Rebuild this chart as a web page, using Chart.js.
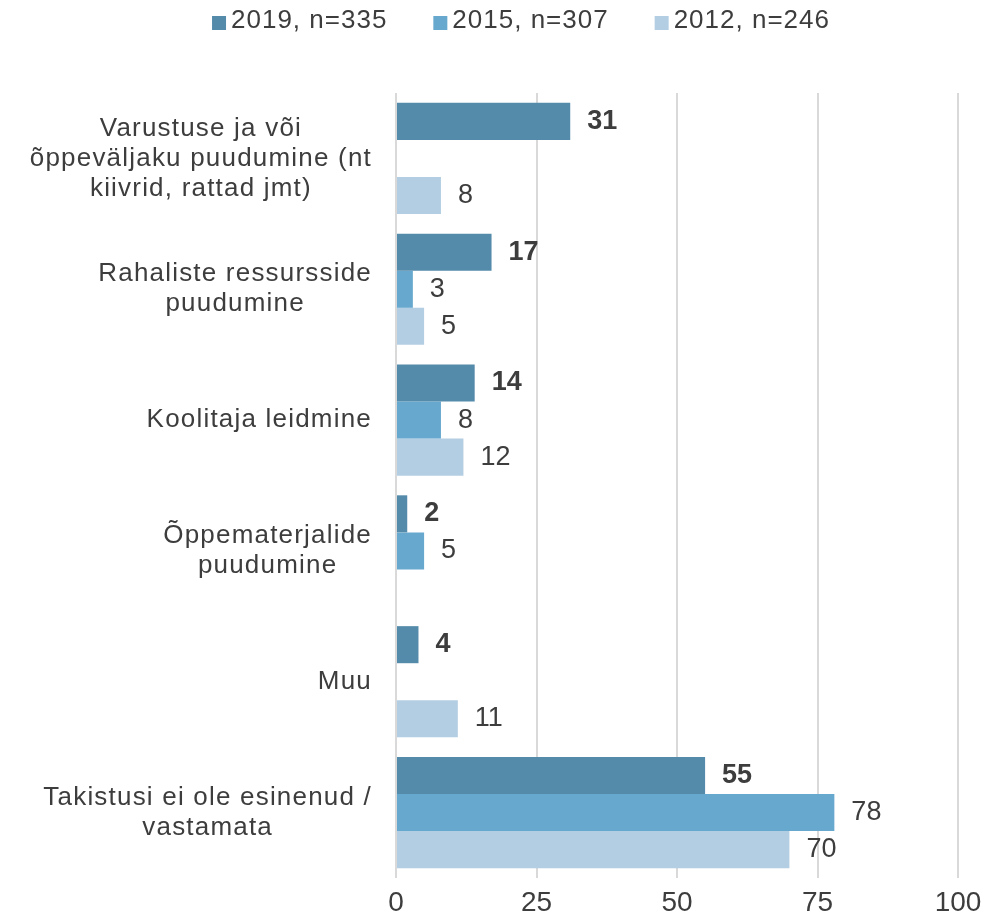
<!DOCTYPE html>
<html>
<head>
<meta charset="utf-8">
<script src="https://cdn.jsdelivr.net/npm/chart.js@4/dist/chart.umd.min.js"></script>
<style>
  body { margin: 0; background: #fff; }
  #wrap { width: 1003px; height: 915px; position: relative; }
</style>
</head>
<body>
<div id="wrap"><canvas id="takistusedChart"></canvas></div>
<script>
const categories = [
    ["Varustuse ja või", "õppeväljaku puudumine (nt", "kiivrid, rattad jmt)"],
    ["Rahaliste ressursside", "puudumine"],
    ["Koolitaja leidmine"],
    ["Õppematerjalide", "puudumine"],
    ["Muu"],
    ["Takistusi ei ole esinenud /", "vastamata"],
];
const seriesNames = ["2019, n=335", "2015, n=307", "2012, n=246"];
const values2019 = [31, 17, 14, 2, 4, 55];
const values2015 = [null, 3, 8, 5, null, 78];
const values2012 = [8, 5, 12, null, 11, 70];
const xTicks = [0, 25, 50, 75, 100];

const FONT = "'Liberation Sans', Arial, sans-serif";
const TEXT = "#3d3d3d";
const colors = ["#548BAB", "#67A8CF", "#B3CEE2"];

// kategooriate nimed: iga plokk keskel, ploki parem serv telje ääres
const categoryLabels = {
    id: "categoryLabels",
    afterDraw(chart) {
        const ctx = chart.ctx;
        const y = chart.scales.y;
        const right = chart.chartArea.left - 24;
        const lh = 30;
        ctx.save();
        ctx.font = "26px " + FONT;
        ctx.letterSpacing = "1.2px";
        ctx.fillStyle = TEXT;
        ctx.textAlign = "center";
        ctx.textBaseline = "middle";
        categories.forEach((lines, i) => {
            const w = Math.max(...lines.map(l => ctx.measureText(l).width));
            const cx = right - w / 2;
            const cy = y.getPixelForTick(i);
            lines.forEach((l, k) => {
                ctx.fillText(l, cx, cy + (k - (lines.length - 1) / 2) * lh);
            });
        });
        ctx.restore();
    },
};

// väärtused tulpade taha, 2019 paksus kirjas
const valueLabels = {
    id: "valueLabels",
    afterDatasetsDraw(chart) {
        const ctx = chart.ctx;
        ctx.save();
        ctx.fillStyle = TEXT;
        ctx.textAlign = "left";
        ctx.textBaseline = "middle";
        chart.data.datasets.forEach((ds, di) => {
            ctx.font = (di === 0 ? "bold " : "") + "27px " + FONT;
            chart.getDatasetMeta(di).data.forEach((el, i) => {
                if (ds.data[i] == null) return;
                ctx.fillText(String(ds.data[i]), el.x + 17, el.y);
            });
        });
        ctx.restore();
    },
};

// legend üleval keskel
const topLegend = {
    id: "topLegend",
    afterDraw(chart) {
        const ctx = chart.ctx;
        const box = 14, gapText = 5, gapItem = 46, cy = 21, center = 521;
        ctx.save();
        ctx.font = "26px " + FONT;
        ctx.letterSpacing = "1px";
        ctx.textBaseline = "middle";
        ctx.textAlign = "left";
        const widths = seriesNames.map(s => ctx.measureText(s).width);
        const total = widths.reduce((a, w) => a + box + gapText + w, 0) + gapItem * (seriesNames.length - 1);
        let x = center - total / 2;
        seriesNames.forEach((s, i) => {
            ctx.fillStyle = colors[i];
            ctx.fillRect(x, cy - box / 2 + 2, box, box);
            ctx.fillStyle = TEXT;
            ctx.fillText(s, x + box + gapText, cy);
            x += box + gapText + widths[i] + gapItem;
        });
        ctx.restore();
    },
};

const ctx = document.getElementById("takistusedChart").getContext("2d");
new Chart(ctx, {
    type: "bar",
    data: {
        labels: categories,
        datasets: [
            { label: seriesNames[0], data: values2019, backgroundColor: colors[0] },
            { label: seriesNames[1], data: values2015, backgroundColor: colors[1] },
            { label: seriesNames[2], data: values2012, backgroundColor: colors[2] },
        ],
    },
    options: {
        indexAxis: "y",
        responsive: true,
        maintainAspectRatio: false,
        animation: false,
        layout: { padding: { left: 0, right: 45, top: 93, bottom: 0 } },
        datasets: {
            bar: { categoryPercentage: 0.85, barPercentage: 1.0, skipNull: false },
        },
        scales: {
            x: {
                min: 0,
                max: 100,
                afterBuildTicks: (axis) => { axis.ticks = xTicks.map(v => ({ value: v })); },
                afterFit: (axis) => { axis.height = 37; },
                grid: { color: "#d9d9d9", lineWidth: 2, drawTicks: false },
                border: { display: false },
                ticks: { color: TEXT, font: { family: FONT, size: 28 }, padding: 8 },
            },
            y: {
                grid: { display: false },
                border: { display: false },
                ticks: { display: false },
                afterFit: (axis) => { axis.width = 396; },
            },
        },
        plugins: {
            legend: { display: false },
            tooltip: { enabled: false },
        },
    },
    plugins: [categoryLabels, valueLabels, topLegend],
});
</script>
</body>
</html>
